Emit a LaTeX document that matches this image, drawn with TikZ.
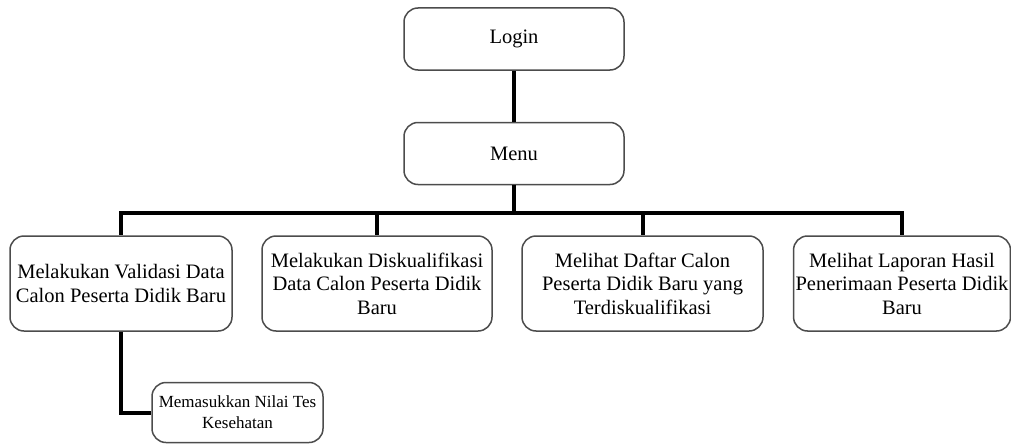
\documentclass[tikz,border=0pt]{standalone}
\usepackage{fontspec}
\setmainfont{Liberation Serif}[Ligatures=TeX]
\usetikzlibrary{positioning}

\begin{document}
\begin{tikzpicture}[x=1pt,y=-1pt,
  kotak/.style={draw=black!70, line width=1.5pt, rounded corners=14pt, fill=white,
    align=center, inner sep=2pt, font=\fontsize{20.5}{23.5}\selectfont},
  garis/.style={line width=4pt}]
  \useasboundingbox (0,0) rectangle (1011,444);

  % login dan menu
  \node[kotak, minimum width=220pt, minimum height=62pt] (login) at (514,39) {Login};
  \node[kotak, minimum width=220pt, minimum height=62pt] (menu) at (514,153.5) {Menu};

  % menu pilihan
  \node[kotak, minimum width=222pt, minimum height=95pt] (validasi) at (121,283.5)
    {Melakukan Validasi Data\\Calon Peserta Didik Baru};
  \node[kotak, minimum width=230pt, minimum height=95pt] (diskualifikasi) at (377,283.5)
    {Melakukan Diskualifikasi\\Data Calon Peserta Didik\\Baru};
  \node[kotak, minimum width=241pt, minimum height=95pt] (daftar) at (642.5,283.5)
    {Melihat Daftar Calon\\Peserta Didik Baru yang\\Terdiskualifikasi};
  \node[kotak, minimum width=213pt, minimum height=95pt] (laporan) at (902,283.5)
    {Melihat Laporan Hasil\\Penerimaan Peserta Didik\\Baru};

  % sub menu
  \node[kotak, minimum width=171pt, minimum height=60pt,
    font=\fontsize{17}{21}\selectfont] (nilai) at (237.5,412.5)
    {Memasukkan Nilai Tes\\Kesehatan};

  % garis penghubung
  \draw[garis] (login) -- (menu);
  \foreach \n in {validasi,diskualifikasi,daftar,laporan}
    \draw[garis] (menu.south) -- ++(0,28) -| (\n.north);
  \draw[garis] (validasi.south) |- (nilai.west);
\end{tikzpicture}
\end{document}
